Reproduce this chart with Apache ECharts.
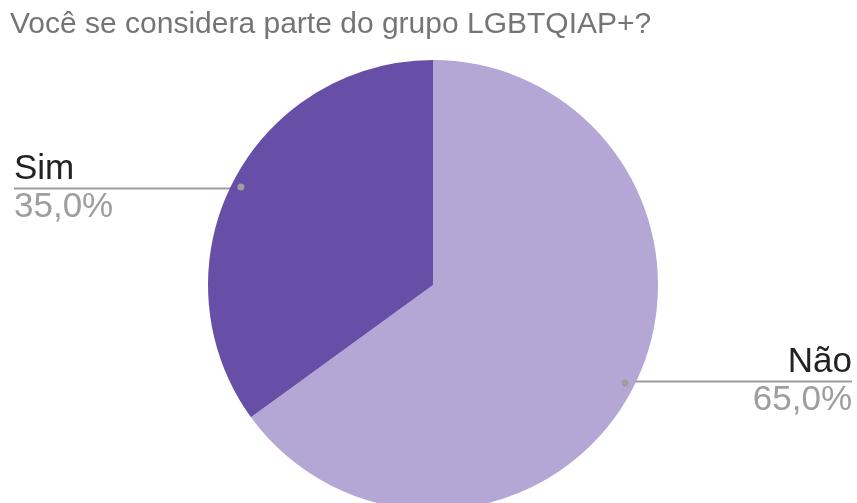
<!DOCTYPE html>
<html><head><meta charset="utf-8">
<script src="https://cdn.jsdelivr.net/npm/echarts@6/dist/echarts.min.js"></script>
<style>html,body{margin:0;padding:0;background:#fff}#c{width:857px;height:503px}</style>
</head><body><div id="c"></div>
<script>
const title = 'Você se considera parte do grupo LGBTQIAP+?';
const categories = ['Não', 'Sim'];
const values = [65, 35];
const colors = ['#b4a7d6', '#674ea7'];

const CX = 433, CY = 285, R = 225, W = 857;
const FONT = 'Liberation Sans, Arial, sans-serif';
const total = values.reduce((a, b) => a + b, 0);

function midAngle(i) {
  let before = 0;
  for (let k = 0; k < i; k++) before += values[k];
  return (before + values[i] / 2) / total * 2 * Math.PI; // clockwise from top
}

const data = categories.map((c, i) => ({ name: c, value: values[i], itemStyle: { color: colors[i] } }));

const chart = echarts.init(document.getElementById('c'), null, { renderer: 'canvas' });
chart.setOption({
  backgroundColor: '#fff',
  animation: false,
  title: {
    text: title, left: 5, top: 5,
    textStyle: { fontFamily: FONT, fontSize: 30, fontWeight: 'normal', color: '#757575' }
  },
  series: [{
    type: 'pie',
    center: [CX, CY],
    radius: R,
    startAngle: 90,
    clockwise: true,
    silent: true,
    data: data,
    label: {
      show: true,
      formatter: p => '{n|' + p.name + '}\n{p|' + p.percent.toFixed(1).replace('.', ',') + '%}',
      rich: {
        n: { fontFamily: FONT, fontSize: 35, color: '#222', lineHeight: 38 },
        p: { fontFamily: FONT, fontSize: 35, color: '#9e9e9e', lineHeight: 38 }
      }
    },
    labelLine: { show: true, lineStyle: { color: '#9e9e9e', width: 2 } },
    labelLayout: function (params) {
      const a = midAngle(params.dataIndex);
      const rr = R * 0.945;
      const x0 = CX + rr * Math.sin(a);
      const y0 = CY - rr * Math.cos(a);
      const right = Math.sin(a) > 0;
      const xe = right ? W - 5 : 14;
      return {
        x: xe, y: y0,
        align: right ? 'right' : 'left',
        verticalAlign: 'middle',
        labelLinePoints: [[x0, y0], [(x0 + xe) / 2, y0], [xe, y0]]
      };
    }
  }, {
    type: 'pie',
    center: [CX, CY],
    radius: [R * 0.89, R],
    startAngle: 90,
    clockwise: true,
    silent: true,
    data: data.map(d => ({ name: d.name, value: d.value })),
    itemStyle: { color: 'rgba(0,0,0,0)' },
    label: {
      show: true, position: 'inside',
      formatter: '{d|}',
      rich: { d: { width: 7, height: 7, borderRadius: 3.5, backgroundColor: '#9e9e9e' } }
    },
    labelLine: { show: false }
  }]
});
</script></body></html>
